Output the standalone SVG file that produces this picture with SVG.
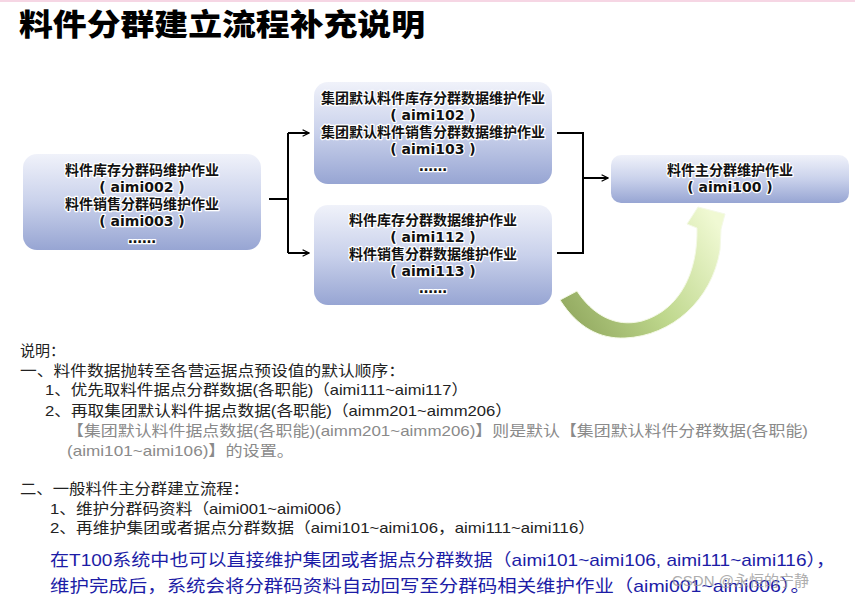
<svg xmlns="http://www.w3.org/2000/svg" width="855" height="602" viewBox="0 0 855 602">
<defs>
<linearGradient id="boxg" x1="0" y1="0" x2="0" y2="1">
<stop offset="0" stop-color="#f0f2fa"/>
<stop offset="0.5" stop-color="#c9d1eb"/>
<stop offset="1" stop-color="#97a5d3"/>
</linearGradient>
<linearGradient id="arrg" x1="565" y1="310" x2="712" y2="215" gradientUnits="userSpaceOnUse">
<stop offset="0" stop-color="#94ab62"/>
<stop offset="0.45" stop-color="#bed78c"/>
<stop offset="1" stop-color="#f0f9d3"/>
</linearGradient>
<marker id="ah" viewBox="0 0 10 10" refX="9" refY="5" markerWidth="8" markerHeight="8" markerUnits="userSpaceOnUse" orient="auto">
<path d="M1,1 L9,5 L1,9" fill="none" stroke="#000" stroke-width="1.6"/>
</marker>
</defs>
<style>
.box{fill:url(#boxg);}
.bt{font-family:"DejaVu Sans","Noto Sans CJK SC",sans-serif;font-size:14px;font-weight:bold;fill:#111;text-anchor:middle;stroke:#fff;stroke-width:2.5px;paint-order:stroke;stroke-linejoin:round;}
.ln{fill:none;stroke:#000;stroke-width:2;}
.tx{font-family:"Liberation Sans","Noto Sans CJK SC",sans-serif;font-size:15px;fill:#222;}
.gr{fill:#8a8a8a;}
.bl{font-family:"Liberation Sans","Noto Sans CJK SC",sans-serif;font-size:17px;fill:#1c1ca6;}
</style>
<rect x="0" y="0" width="855" height="602" fill="#fff"/>
<rect x="0" y="0" width="855" height="2" fill="#f6d6e4"/>
<text x="19" y="35" font-family="'Noto Sans CJK SC',sans-serif" font-size="30" font-weight="900" fill="#000" textLength="406" lengthAdjust="spacingAndGlyphs">料件分群建立流程补充说明</text>

<g id="connectors">
<path class="ln" d="M269,199 H288 M288,133 V253"/>
<path class="ln" d="M288,133 H309" marker-end="url(#ah)"/>
<path class="ln" d="M288,253 H309" marker-end="url(#ah)"/>
<path class="ln" d="M557,133 H583 V253 H557"/>
<path class="ln" d="M583,178 H608" marker-end="url(#ah)"/>
</g>

<g id="n1">
<rect class="box" x="23" y="154" width="238" height="96" rx="14"/>
<text class="bt" x="142" y="175">料件库存分群码维护作业</text>
<text class="bt" x="142" y="192">( aimi002 )</text>
<text class="bt" x="142" y="209">料件销售分群码维护作业</text>
<text class="bt" x="142" y="226">( aimi003 )</text>
<text class="bt" x="142" y="243">……</text>
</g>
<g id="n2">
<rect class="box" x="314" y="82" width="238" height="102" rx="14"/>
<text class="bt" x="433" y="103">集团默认料件库存分群数据维护作业</text>
<text class="bt" x="433" y="120">( aimi102 )</text>
<text class="bt" x="433" y="137">集团默认料件销售分群数据维护作业</text>
<text class="bt" x="433" y="154">( aimi103 )</text>
<text class="bt" x="433" y="171">……</text>
</g>
<g id="n3">
<rect class="box" x="314" y="205" width="238" height="100" rx="14"/>
<text class="bt" x="433" y="225">料件库存分群数据维护作业</text>
<text class="bt" x="433" y="242">( aimi112 )</text>
<text class="bt" x="433" y="259">料件销售分群数据维护作业</text>
<text class="bt" x="433" y="276">( aimi113 )</text>
<text class="bt" x="433" y="293">……</text>
</g>
<g id="n4">
<rect class="box" x="611" y="155" width="238" height="48" rx="10"/>
<text class="bt" x="730" y="175">料件主分群维护作业</text>
<text class="bt" x="730" y="192">( aimi100 )</text>
</g>

<g id="curve">
<path d="M560,300 C578,328 600,339 625,338 C672,336 712,300 720,250 L721,229 L725,214 L698,207 L687,224 L697,228 C698,272 680,310 642,321 C615,328 592,314 577,291 Z" fill="url(#arrg)" stroke="#f4f9e6" stroke-width="1"/>
</g>

<g id="notes">
<text class="tx" x="20" y="356">说明：</text>
<text class="tx" x="20" y="376" textLength="385" lengthAdjust="spacingAndGlyphs">一、料件数据抛转至各营运据点预设值的默认顺序：</text>
<text class="tx" x="45" y="395" textLength="423" lengthAdjust="spacingAndGlyphs">1、优先取料件据点分群数据(各职能)（aimi111~aimi117）</text>
<text class="tx" x="45" y="416" textLength="467" lengthAdjust="spacingAndGlyphs">2、再取集团默认料件据点数据(各职能)（aimm201~aimm206）</text>
<text class="tx gr" x="67" y="436" textLength="741" lengthAdjust="spacingAndGlyphs">【集团默认料件据点数据(各职能)(aimm201~aimm206)】则是默认【集团默认料件分群数据(各职能)</text>
<text class="tx gr" x="67" y="456" textLength="227" lengthAdjust="spacingAndGlyphs">(aimi101~aimi106)】的设置。</text>
<text class="tx" x="20" y="494" textLength="229" lengthAdjust="spacingAndGlyphs">二、一般料件主分群建立流程：</text>
<text class="tx" x="50" y="514" textLength="302" lengthAdjust="spacingAndGlyphs">1、维护分群码资料（aimi001~aimi006）</text>
<text class="tx" x="50" y="533" textLength="545" lengthAdjust="spacingAndGlyphs">2、再维护集团或者据点分群数据（aimi101~aimi106，aimi111~aimi116）</text>
<text class="bl" x="50" y="566" textLength="785" lengthAdjust="spacingAndGlyphs">在T100系统中也可以直接维护集团或者据点分群数据（aimi101~aimi106, aimi111~aimi116），</text>
<text class="bl" x="50" y="592" textLength="760" lengthAdjust="spacingAndGlyphs">维护完成后，系统会将分群码资料自动回写至分群码相关维护作业（aimi001~aimi006）。</text>
<text x="672" y="586" font-family="'Liberation Sans','Noto Sans CJK SC',sans-serif" font-size="15" fill="#9a9a9a" opacity="0.8">CSDN @永恒的宁静</text>
</g>
</svg>
